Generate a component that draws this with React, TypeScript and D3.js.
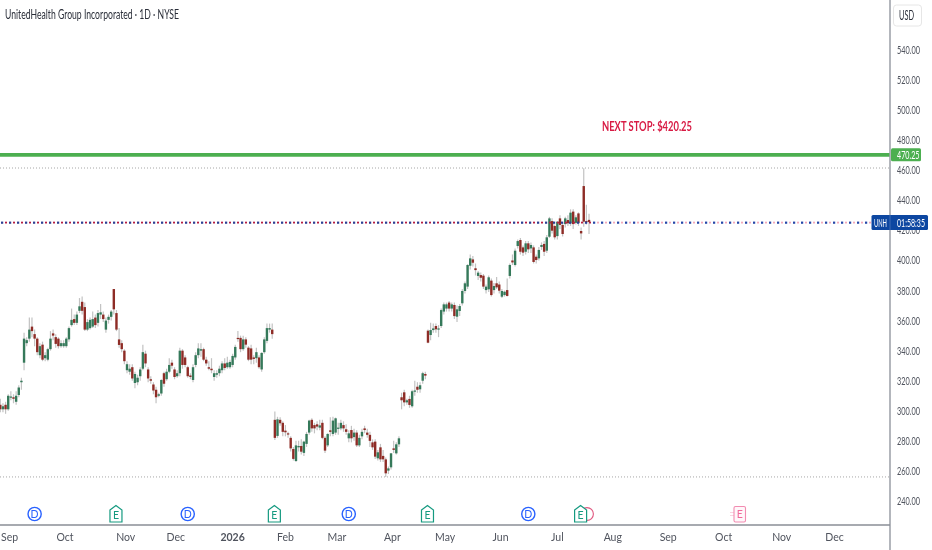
import React from "react";
import * as d3 from "d3";

type Ohlc = [number, number, number, number];

// Daily candles, [open, high, low, close].
const autumnCandles: Ohlc[] = [
  [304,308,299,301],[301,305,299,303],[304,306,298,301],[301,311,300,310],[309,313,307,309.5],[309,311,305,308],[306,313,304,310],[310.5,317,309,315.5],
  [319,322,314,320],[332,352,327,348],[345,349,343,347],[348,362,346,354],[356,362,349,353],[351,354,343,348],[348,349,337,339],[337,345,335,343],
  [344,346,333,334],[335,339,333,337],[334,342,333,341],[341,353,340,348],[351.5,354,347,350],[349,351,342,344.5],[348,349,341.5,343],[343,347,342,345],
  [343,347,342,345],[343,349,342,348],[347.5,356,346,355],[357,368,356,360.5],[361,364,357,358.5],[358.5,366,357,364],[366.5,375,365,369.5],[372.5,376,364,366.5],
  [369,372,353,354],[354,361,353,359],[355,362,354,360.5],[356,366,355,361],[362,364,355,357],[358.5,367,356,365],[364,371,361,365.5],[364,366,359,361],
  [354,362,352,360],[360.5,364,358,362.5],[362.5,367,360,366],[381,381,364,367.5],[365,367,353,354],[347.5,355,342,343.8],[345,347,339,341],[340,341,331,333],
  [327,333,325,331],[326,331,324,328],[329,331,320,321.5],[318.5,326,315,324.5],[319,324,317,322],[323,329,320,327.5],[328,344,327,339],[338,340,329,331.5],
  [327.5,329,319,321.5],[321,323,318,320],[317.5,319,311,313.5],[314,316,305,309],[310,312,309,311],[311.5,321,310,320.5],[325,326,316,318],[321,328,320,326],
  [326,335,325,330.5],[332,334,328,330],[327.5,329,321,322.5],[323,327,322,325],[325,342,323,340],[340,341,328,330.5],[335.5,337,329,330.5],[329,330,322,323],
  [323.5,325,321,322.5],[320.5,331,319,329],[330.5,339,329,337],[337,345,335,341.5],[340,345,336,341],[341,342,333,334],[334,336,330,331.5],[329,333,327,328],
  [328,335,325,327],[322.5,327,320,325],[324,327,322,325],[325,330,323,328],[327,333,325,331.5],[331.5,335,327,328.5],[329,336,328,332],[329,334,328,332.5],
  [330.5,338,329,336.5],[335.5,344,334,342.5],[348.5,353,346,348],[348.5,350,339,341],[341,350,340,347.5],[347.5,349,342,344],[342,343,333,334],[341.5,344,331,334],
  [335.5,337,331,334.5],[335,342,332,339],[335.5,337,328,329],[327.5,339,326,338.5],[339,349,338,347.5],[346.5,358,345,355],[354,358,352,355],[354,358,348,351],
];
const winterCandles: Ohlc[] = [
  [294,299.5,280.5,282],[283.3,296,282,294.3],[294,295.7,290,291.7],[292,293,283,286],[286.8,290.5,283,285.7],[285,286,282,284.3],[282,283,273,275],[274.6,276,267,268],
  [266.6,280,266,277],[275.7,280,273,276.6],[276.6,281,271,272.8],[272,280,270,279.5],[278,286,276,284.6],[285.5,294,284,293.5],[294,295,286,288.3],[290.5,292,285,288.3],
  [291,293,287,289.5],[288.8,294,287,290.3],[292,294,281,282],[282,283,272,273.5],[277,285,276,284.6],[287,295.7,283,286],[284.6,296,283,293.5],[285.5,295.5,284,295],
  [288.3,292,284,288.8],[288.3,294,287,292],[290.5,293,286,288.3],[287.7,291,284,286],[281.7,287,279,285],[287.2,290,279,281.7],[282.5,288,280,285.5],[285.5,287,276,277],
  [277,284,276,282],[283,288,281,286],[288.3,290,285,287.2],[285.5,288,282,284],[284,286,276,280],[279,281,274,275.7],[279.5,281,268,269.5],[268.4,274,267,272.4],
  [275.7,278,266,267.7],[270,274,266,267.7],[267.7,269,256,258.4],[260.2,263,258,261.7],[262.4,272,261,271.7],[275,280,272,274],[271.7,279,271,277.7],[277.7,283,276,281.7],
];
const aprilCandles: Ohlc[] = [
  [309,312,301,307],[312.3,314,303,305.6],[305.6,308,304,307],[307.9,310,302,303.9],[303,314,302,313],[313,320,310,313.5],[316,319,312,314],[314.3,319,312,317],[320,326,318,325],[324.5,326,321,323.4],
];
const summerCandles: Ohlc[] = [
  [353.3,354,345,345.3],[350.4,358.6,347,353.7],[353.7,358,352,354.8],[356.4,358,352,354.2],[354.2,357,349,354.8],[356.4,368,355,367],[366,372,364,370.8],[368,372,366,370.8],
  [372,373,366,368],[368,372,366,370.8],[370.4,372,361,363],[362.6,370,359,367.5],[366.4,371,363,369.7],[371.5,381,370,379.7],[379.7,386,378,384.8],[382.6,397.5,381,397],
  [396.5,404,394,401.4],[400.7,403,396,398.5],[394.8,398,390,393.6],[389.7,393,387,391.9],[390.3,392,386,388.5],[389.9,391,381,382.6],[380.3,384,378,382.6],[380.8,390,379,388.8],
  [386.6,388,376,377],[380.3,385,378,383],[384.8,389,381,382.1],[384,386,378,379.9],[375.9,381,375,379.7],[377,380,376,379.2],[380.3,388,376,376.4],[389.7,398,388,397],
  [400,404,397,398.7],[397,408,396,406.5],[409.6,414,408,412.9],[413.6,415,404,405.8],[408.7,410,403,405.2],[405.8,413,404,411.4],[411.4,413,405,407.4],[408,412,405,410.3],
  [408.7,410,398,399],[402.5,404,398,400.3],[401.4,409,400,407],[409,412,407,410.3],[411,413,403,405.8],[406.5,417,405,415.4],[415.8,429,415,428],[426.2,428,418,419.8],
  [422.9,424,414,415.4],[416.2,426,414,425.8],[428,430,421,423.6],[423.6,425,416,417.6],[424.2,429,422,428],[426.9,430,423,424.7],[424.7,434,423,431.8],[432.5,434,421,424.2],
  [425,430,424,428.7],[431.3,432,423,425],[419.6,422,414,418],[449.5,461.3,422.5,425.8],[426.2,437,424,425.8],[427,431,417.6,425.6],
];
const candles: Ohlc[] = [...autumnCandles, ...winterCandles, ...aprilCandles, ...summerCandles];

const priceTicks = [540,520,500,480,460,440,420,400,380,360,340,320,300,280,260,240];
const monthLabels = ["Sep","Oct","Nov","Dec","2026","Feb","Mar","Apr","May","Jun","Jul","Aug","Sep","Oct","Nov","Dec"];
const monthBars = [3.5,24.5,47.5,66.5,88,108,127.5,148.5,168.5,189.5,211,232,253,274,296,316];
const dividendBars = [13,71,132,200];
const earningsBars = [44,104,162,220];
const lastPrice = 425.2;
const targetPrice = 470.25;
const upperLevel = 461.5;
const lowerLevel = 256;

const W = 932;
const H = 550;
const axisX = 890;
const axisY = 525;
const font = "'Lato','Roboto',sans-serif";
const GREEN = "#35795a";
const RED = "#8e2c26";
const WICK = "#c2c2c2";

const x = d3.scaleLinear().domain([0, 340]).range([0.3, 0.3 + 2.64 * 340]);
const y = d3.scaleLinear().domain([240, 540]).range([501, 50]);
const lastX = x(candles.length - 1);
const dotXs = d3.range(0, axisX - 18, 8);

function DividendIcon({ cx }: { cx: number }) {
  return (
    <g>
      <circle cx={cx} cy={514} r={6.6} fill="#fff" stroke="#2962ff" strokeWidth={1.4} />
      <text x={cx} y={517.8} textAnchor="middle" fontSize={10.5} fontFamily={font} fill="#2962ff">D</text>
    </g>
  );
}

function EarningsIcon({ cx }: { cx: number }) {
  const p = d3.path();
  p.moveTo(cx - 6, 510);
  p.lineTo(cx, 505.5);
  p.lineTo(cx + 6, 510);
  p.lineTo(cx + 6, 522);
  p.lineTo(cx - 6, 522);
  p.closePath();
  return (
    <g>
      <path d={p.toString()} fill="#fff" stroke="#159a80" strokeWidth={1.2} />
      <text x={cx} y={518.5} textAnchor="middle" fontSize={10.5} fontFamily={font} fill="#159a80">E</text>
    </g>
  );
}

function FutureEarningsIcon({ cx }: { cx: number }) {
  return (
    <g>
      <line x1={cx - 9} x2={cx - 5} y1={512.5} y2={512.5} stroke="#f6a5c0" strokeWidth={1} strokeDasharray="1 1" />
      <line x1={cx - 9} x2={cx - 5} y1={515.5} y2={515.5} stroke="#f6a5c0" strokeWidth={1} strokeDasharray="1 1" />
      <rect x={cx - 5.5} y={506.5} width={11.5} height={15.5} rx={1.5} fill="#fff7fa" stroke="#f28cb1" strokeWidth={1.1} />
      <text x={cx + 0.3} y={518.3} textAnchor="middle" fontSize={10.5} fontFamily={font} fill="#f06a9b">E</text>
    </g>
  );
}

export default function App() {
  return (
    <svg width={W} height={H} viewBox={`0 0 ${W} ${H}`} style={{ position: "absolute", left: 0, top: 0, background: "#fff", filter: "blur(0.3px)" }}>
      <text x={5} y={18.5} fontSize={12.5} fontFamily={font} fill="#2a2e39" textLength={174} lengthAdjust="spacingAndGlyphs">
        UnitedHealth Group Incorporated · 1D · NYSE
      </text>

      <line x1={0} x2={axisX} y1={y(upperLevel)} y2={y(upperLevel)} stroke="#a6a6a6" strokeWidth={1} strokeDasharray="1 2" />
      <line x1={0} x2={axisX} y1={y(lowerLevel)} y2={y(lowerLevel)} stroke="#a6a6a6" strokeWidth={1} strokeDasharray="1 2" />
      <line x1={0} x2={axisX} y1={y(targetPrice)} y2={y(targetPrice)} stroke="#4caf50" strokeWidth={3.6} />

      <g>
        {candles.map(([o, h, l, c], i) => {
          const top = y(Math.max(o, c));
          const bottom = y(Math.min(o, c));
          return (
            <g key={i}>
              <line x1={x(i)} x2={x(i)} y1={y(h)} y2={y(l)} stroke={WICK} strokeWidth={1.2} />
              <rect x={x(i) - 1.2} width={2.4} y={top} height={Math.max(bottom - top, 1.2)} fill={c >= o ? GREEN : RED} />
            </g>
          );
        })}
      </g>

      {dotXs.map((d) => (
        <g key={d}>
          <rect x={d + 1} y={y(lastPrice) - 1} width={2.2} height={2.2} fill={d < lastX ? "#2b3f93" : "#2447a8"} />
          <rect x={d + 5} y={y(lastPrice) - 0.9} width={2} height={1.8} fill={d < lastX ? "#b81f42" : "#f3a9ba"} />
        </g>
      ))}

      <text x={602} y={130.5} fontSize={13.5} fontWeight={700} fontFamily={font} fill="#d81b44" textLength={90} lengthAdjust="spacingAndGlyphs">
        NEXT STOP: $420.25
      </text>

      <line x1={axisX} x2={axisX} y1={0} y2={H} stroke="#9a9ea6" strokeWidth={1.5} />
      <line x1={0} x2={axisX} y1={axisY} y2={axisY} stroke="#8a8e96" strokeWidth={1.5} />

      {priceTicks.map((t) => (
        <text key={t} x={897} y={y(t) + 4} fontSize={11.5} fontFamily={font} fill="#50545e" textLength={23} lengthAdjust="spacingAndGlyphs">
          {t.toFixed(2)}
        </text>
      ))}

      <rect x={893.5} y={5} width={28} height={21} rx={3} fill="#fff" stroke="#e6e6e6" />
      <text x={899} y={20} fontSize={12.5} fontFamily={font} fill="#2a2e39" textLength={15} lengthAdjust="spacingAndGlyphs">USD</text>

      <rect x={891} y={y(targetPrice) - 6.5} width={30} height={13} rx={1.5} fill="#4caf50" />
      <text x={897} y={y(targetPrice) + 4} fontSize={11.5} fontFamily={font} fill="#fff" textLength={22.5} lengthAdjust="spacingAndGlyphs">470.25</text>

      <rect x={871.5} y={215} width={56.5} height={15} rx={1.5} fill="#0d47a1" />
      <line x1={890} x2={890} y1={215} y2={230} stroke="#3f6db5" strokeWidth={1} />
      <text x={874} y={226.6} fontSize={11.5} fontFamily={font} fill="#fff" textLength={13} lengthAdjust="spacingAndGlyphs">UNH</text>
      <text x={897} y={226.6} fontSize={11.5} fontFamily={font} fill="#fff" textLength={28} lengthAdjust="spacingAndGlyphs">01:58:35</text>

      {monthLabels.map((m, i) => (
        <text
          key={i}
          x={x(monthBars[i])}
          y={541}
          textAnchor="middle"
          fontSize={10.5}
          fontFamily={font}
          fontWeight={m === "2026" ? 700 : 400}
          fill="#50545e"
        >
          {m}
        </text>
      ))}

      <circle cx={587} cy={514} r={6.4} fill="#fff" stroke="#e0577f" strokeWidth={1.1} />
      {dividendBars.map((b) => <DividendIcon key={b} cx={x(b)} />)}
      {earningsBars.map((b) => <EarningsIcon key={b} cx={x(b) - 0.5} />)}
      <FutureEarningsIcon cx={x(280)} />
    </svg>
  );
}
